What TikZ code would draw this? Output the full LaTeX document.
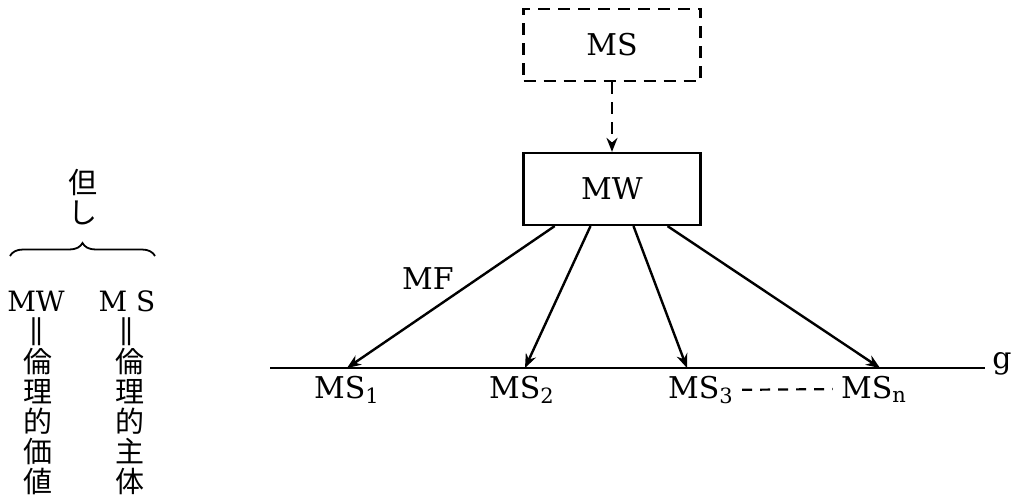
\documentclass[tikz,border=0pt]{standalone}
\usepackage{fontspec}
\setmainfont{DejaVu Serif}
\newfontfamily\jpfont{Noto Sans CJK JP}
\usetikzlibrary{arrows.meta,positioning,calc,decorations.pathreplacing}

\begin{document}
\begin{tikzpicture}[
    x=0.5pt, y=-0.5pt,
    box/.style={draw, line width=1.1pt, minimum width=88.5pt, minimum height=36pt, font=\fontsize{15}{18}\selectfont},
    lbl/.style={font=\fontsize{15}{18}\selectfont, inner sep=1pt},
    jp/.style={font=\jpfont\fontsize{14.5}{15}\selectfont, align=center, inner sep=0pt},
    eqsign/.style={rotate=90, inner sep=0pt, font=\fontsize{14}{14}\selectfont},
    dashline/.style={line width=1.1pt, dash pattern=on 6pt off 4pt},
    arrow/.style={-{Stealth[length=7pt,width=5.5pt]}, line width=1.2pt}
]
    \useasboundingbox (0,0) rectangle (1014,499);

    % boxes
    \node[box, dashline] (ms) at (612,45) {MS};
    \node[box] (mw) at (612,189) {MW};
    \draw[arrow, dashline] (ms) -- (mw);

    % line g
    \coordinate (gl) at (270,368);
    \coordinate (gr) at (985,368);
    \draw[line width=1.2pt] (gl) -- (gr);
    \node[lbl, anchor=base west] (g) at (990,368) {g};

    \coordinate (s1) at (347,368);
    \coordinate (s2) at (525,368);
    \coordinate (s3) at (687,368);
    \coordinate (sn) at (880,368);
    \draw[arrow] ($(mw.south west)!0.18!(mw.south east)$) -- (s1);
    \draw[arrow] ($(mw.south west)!0.38!(mw.south east)$) -- (s2);
    \draw[arrow] ($(mw.south west)!0.62!(mw.south east)$) -- (s3);
    \draw[arrow] ($(mw.south west)!0.81!(mw.south east)$) -- (sn);
    \node[lbl] (mf) at (428,279) {MF};

    \node[lbl, anchor=base] (l1) at (347,398) {MS\textsubscript{1}};
    \node[lbl, anchor=base] (l2) at (522,398) {MS\textsubscript{2}};
    \node[lbl, anchor=base] (l3) at (701,398) {MS\textsubscript{3}};
    \node[lbl, anchor=base] (ln) at (874,398) {MS\textsubscript{n}};
    \draw[dashline, dash pattern=on 5pt off 4pt, shorten <=3pt, shorten >=3pt] (l3.east) -- (ln.west);

    % legend on the left
    \node[jp] (tadashi) at (83,197) {但\\し};
    \draw[line width=0.9pt, decorate, decoration={brace, amplitude=6.5pt}] (10,256) -- (155,256);
    \node[lbl, font=\fontsize{14}{16}\selectfont] (kw) at (36,301) {MW};
    \node[lbl, font=\fontsize{14}{16}\selectfont] (ks) at (127,301) {M S};
    \node[eqsign] (eqw) at (39,332) {\scalebox{1.6}[1]{=}};
    \node[eqsign] (eqs) at (129,332) {\scalebox{1.6}[1]{=}};
    \node[jp] (colw) at (38,422) {倫\\理\\的\\価\\値};
    \node[jp] (cols) at (130,422) {倫\\理\\的\\主\\体};
\end{tikzpicture}
\end{document}
